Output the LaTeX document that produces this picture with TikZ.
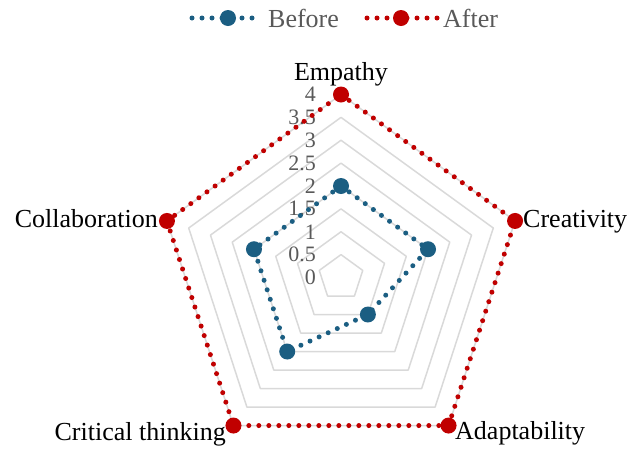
\documentclass[tikz,border=0pt]{standalone}
\usepackage{fontspec}
\setmainfont{Liberation Serif}
\definecolor{beforec}{HTML}{1B5E82}
\definecolor{afterc}{HTML}{C00000}
\definecolor{gridc}{HTML}{D9D9D9}
\definecolor{tickc}{HTML}{595959}
\begin{document}
\begin{tikzpicture}[x=1pt,y=-1pt,
  gridline/.style={draw=gridc,line width=1.5pt,line join=round},
  dotline/.style={line width=5pt,line cap=round,dash pattern=on 0pt off 10pt},
  beforeline/.style={dotline,draw=beforec},
  afterline/.style={dotline,draw=afterc},
  bmark/.style={circle,fill=beforec,minimum size=16pt,inner sep=0pt},
  amark/.style={circle,fill=afterc,minimum size=16pt,inner sep=0pt},
  ticklab/.style={anchor=east,inner sep=0pt,text=tickc,font=\fontsize{22}{24}\selectfont},
  catlab/.style={inner sep=0pt,text=black,font=\fontsize{26}{30}\selectfont},
  leglab/.style={anchor=west,inner sep=0pt,text=tickc,font=\fontsize{26}{30}\selectfont}]
\useasboundingbox (0,0) rectangle (629,448);
\coordinate (O) at (341,277.5);
\def\u{45.75}
% grid
\foreach \v in {0.5,1,1.5,2,2.5,3,3.5,4}{
  \draw[gridline] ([shift={(90:\v*\u pt)}]O) -- ([shift={(18:\v*\u pt)}]O) -- ([shift={(-54:\v*\u pt)}]O) -- ([shift={(-126:\v*\u pt)}]O) -- ([shift={(162:\v*\u pt)}]O) -- cycle;
}
% tick labels
\foreach \v/\t [count=\i] in {0/0,0.5/0.5,1/1,1.5/1.5,2/2,2.5/2.5,3/3,3.5/3.5,4/4}{
  \node[ticklab] (t\i) at ([shift={(90:\v*\u pt)}]O -| 316,0) {\t};
}
% series points
\coordinate (A1) at ([shift={(90:4*\u pt)}]O);
\coordinate (A2) at ([shift={(18:4*\u pt)}]O);
\coordinate (A3) at ([shift={(-54:4*\u pt)}]O);
\coordinate (A4) at ([shift={(-126:4*\u pt)}]O);
\coordinate (A5) at ([shift={(162:4*\u pt)}]O);
\coordinate (B1) at ([shift={(90:2*\u pt)}]O);
\coordinate (B2) at ([shift={(18:2*\u pt)}]O);
\coordinate (B3) at ([shift={(-54:1*\u pt)}]O);
\coordinate (B4) at ([shift={(-126:2*\u pt)}]O);
\coordinate (B5) at ([shift={(162:2*\u pt)}]O);
\draw[beforeline] (B1) -- (B2) -- (B3) -- (B4) -- (B5) -- cycle;
\draw[afterline] (A1) -- (A2) -- (A3) -- (A4) -- (A5) -- cycle;
\foreach \i in {1,...,5}{
  \node[bmark] (bm\i) at (B\i) {};
  \node[amark] (am\i) at (A\i) {};
}
% category labels
\node[catlab,anchor=base] (empathy) at (341,80) {Empathy};
\node[catlab,anchor=base west] (creativity) at (523,227) {Creativity};
\node[catlab,anchor=base west] (adapt) at (455,439.5) {Adaptability};
\node[catlab,anchor=base east] (crit) at (226,440.5) {Critical thinking};
\node[catlab,anchor=base east] (collab) at (158,227) {Collaboration};
% legend
\coordinate (lb1) at (192,18);
\coordinate (lb2) at (262,18);
\draw[beforeline] (lb1) -- (lb2);
\node[bmark] (lbm) at (228,18) {};
\node[leglab] (lbt) at (268,18) {Before};
\coordinate (la1) at (367,18);
\coordinate (la2) at (437,18);
\draw[afterline] (la1) -- (la2);
\node[amark] (lam) at (401,18) {};
\node[leglab] (lat) at (443,18) {After};
\end{tikzpicture}
\end{document}
